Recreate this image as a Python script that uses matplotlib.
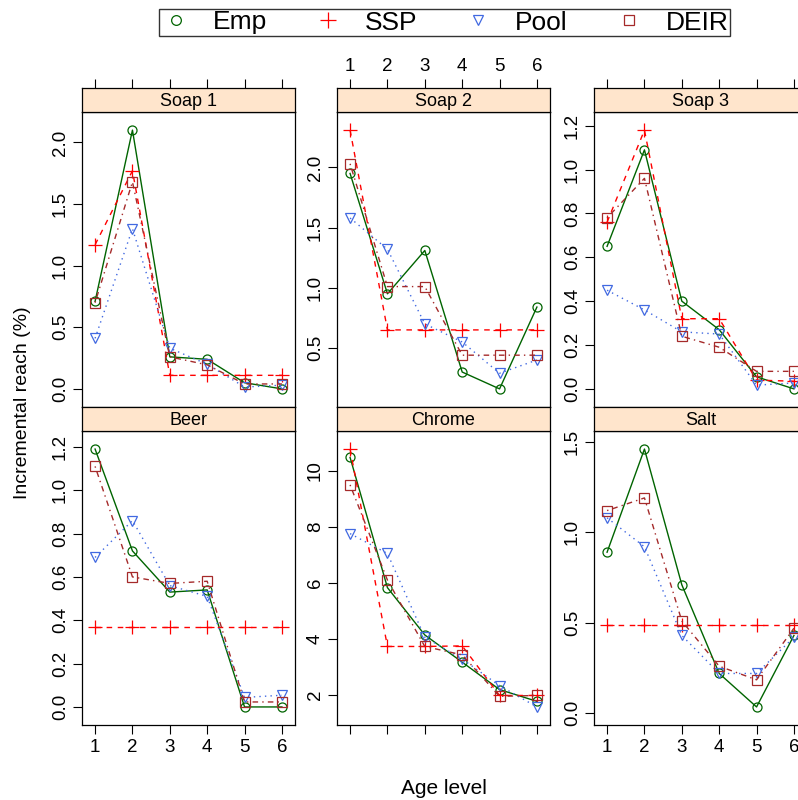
import matplotlib
matplotlib.use("Agg")
import matplotlib.pyplot as plt
from matplotlib.ticker import MultipleLocator, FormatStrFormatter
from matplotlib.lines import Line2D

plt.rcParams["font.family"] = ["Liberation Sans", "DejaVu Sans"]

# Data
ages = [1, 2, 3, 4, 5, 6]
panels = ["Soap 1", "Soap 2", "Soap 3", "Beer", "Chrome", "Salt"]
series = ["Emp", "SSP", "Pool", "DEIR"]

emp = [
    [0.71, 2.10, 0.26, 0.24, 0.05, 0.0],
    [1.95, 0.95, 1.31, 0.30, 0.16, 0.84],
    [0.65, 1.09, 0.40, 0.27, 0.055, 0.0],
    [1.19, 0.72, 0.53, 0.54, 0.0, 0.0],
    [10.48, 5.83, 4.14, 3.17, 2.19, 1.77],
    [0.89, 1.46, 0.71, 0.22, 0.035, 0.43],
]
ssp = [
    [1.17, 1.77, 0.11, 0.11, 0.11, 0.11],
    [2.31, 0.65, 0.65, 0.65, 0.65, 0.65],
    [0.76, 1.18, 0.32, 0.32, 0.04, 0.035],
    [0.37, 0.37, 0.37, 0.37, 0.37, 0.37],
    [10.78, 3.73, 3.73, 3.75, 1.98, 1.98],
    [0.49, 0.49, 0.49, 0.49, 0.49, 0.49],
]
pool = [
    [0.41, 1.30, 0.33, 0.20, 0.015, 0.03],
    [1.58, 1.32, 0.70, 0.55, 0.29, 0.40],
    [0.45, 0.36, 0.26, 0.25, 0.017, 0.027],
    [0.69, 0.86, 0.56, 0.51, 0.044, 0.054],
    [7.76, 7.05, 4.06, 3.28, 2.33, 1.57],
    [1.08, 0.92, 0.43, 0.22, 0.22, 0.42],
]
deir = [
    [0.70, 1.68, 0.26, 0.195, 0.04, 0.04],
    [2.03, 1.01, 1.01, 0.44, 0.44, 0.44],
    [0.78, 0.96, 0.24, 0.19, 0.08, 0.08],
    [1.11, 0.60, 0.57, 0.58, 0.023, 0.023],
    [9.50, 6.10, 3.73, 3.43, 1.95, 1.98],
    [1.12, 1.19, 0.51, 0.26, 0.185, 0.47],
]

# style per series
colors = ["#006400", "#FF0000", "#4169E1", "#A52A2A"]
markers = ["o", "+", "v", "s"]
styles = ["-", (0, (4, 4)), (0, (1, 3)), (0, (1, 3, 4, 3))]
ystep = [0.5, 0.5, 0.2, 0.2, 2, 0.5]
yfmt = ["%.1f", "%.1f", "%.1f", "%.1f", "%d", "%.1f"]

W, H = 798, 800
fig = plt.figure(figsize=(W / 100, H / 100), dpi=100)

col_left = [82, 337, 594]
col_w = 213
rows = [(88, 112, 407), (407, 431, 725)]  # strip top, panel top, panel bottom
TICK_FS = 13.5


def fbox(x0, y0, x1, y1):
    return [x0 / W, 1 - y1 / H, (x1 - x0) / W, (y1 - y0) / H]


for i, name in enumerate(panels):
    r, c = divmod(i, 3)
    st, pt, pb = rows[r]
    x0 = col_left[c]
    ax = fig.add_axes(fbox(x0, pt, x0 + col_w, pb))
    for k, data in enumerate([emp, ssp, pool, deir]):
        ax.plot(ages, data[i], color=colors[k], linestyle=styles[k], lw=1,
                marker=markers[k], markersize=6.5 if k != 1 else 9.5,
                markerfacecolor="none", markeredgewidth=0.9)
    ax.margins(x=0.07, y=0.07)
    ax.set_xticks(ages)
    ax.yaxis.set_major_locator(MultipleLocator(ystep[i]))
    ax.yaxis.set_major_formatter(FormatStrFormatter(yfmt[i]))
    ax.tick_params(axis="both", direction="out", length=6.5, width=0.8,
                   labelsize=TICK_FS, colors="black")
    ax.tick_params(axis="y", left=True, right=False, labelrotation=90, pad=3)
    for lab in ax.get_yticklabels():
        lab.set_va("center")
    for sp in ax.spines.values():
        sp.set_linewidth(0.9)

    # strip on top of the panel, sharing the x scale
    sax = fig.add_axes(fbox(x0, st, x0 + col_w, pt), sharex=ax)
    sax.set_facecolor("#FFE5CC")
    sax.set_yticks([])
    sax.tick_params(axis="x", direction="out", length=6.5, width=0.8,
                    labelsize=TICK_FS, pad=3)
    for sp in sax.spines.values():
        sp.set_linewidth(0.9)
    sax.text(0.5, 0.45, name, ha="center", va="center", fontsize=13,
             transform=sax.transAxes)

    if r == 0:
        ax.tick_params(axis="x", top=False, bottom=False,
                       labeltop=False, labelbottom=False)
        sax.tick_params(axis="x", top=True, bottom=False,
                        labeltop=(c == 1), labelbottom=False)
    else:
        ax.tick_params(axis="x", top=False, bottom=True,
                       labeltop=False, labelbottom=(c != 1))
        sax.tick_params(axis="x", top=False, bottom=False,
                        labeltop=False, labelbottom=False)

fig.text(23 / W, 1 - 403 / H, "Incremental reach (%)", rotation=90,
         ha="center", va="center", fontsize=14)
fig.text(444 / W, 1 - 788 / H, "Age level", ha="center", va="center",
         fontsize=15)

handles = [Line2D([], [], linestyle="none", marker=markers[k], color=colors[k],
                  markerfacecolor="none", markersize=7 if k != 1 else 12,
                  markeredgewidth=0.9) for k in range(4)]
leg = fig.legend(handles, series, loc="center", ncol=4,
                 bbox_to_anchor=(444.5 / W, 1 - 22.5 / H), fontsize=19,
                 frameon=True, fancybox=False, edgecolor="black",
                 handlelength=1.2, handletextpad=0.8, columnspacing=1.7,
                 borderpad=0.05, borderaxespad=0)
leg.get_frame().set_linewidth(1.0)

fig.savefig("out.png", dpi=100)
